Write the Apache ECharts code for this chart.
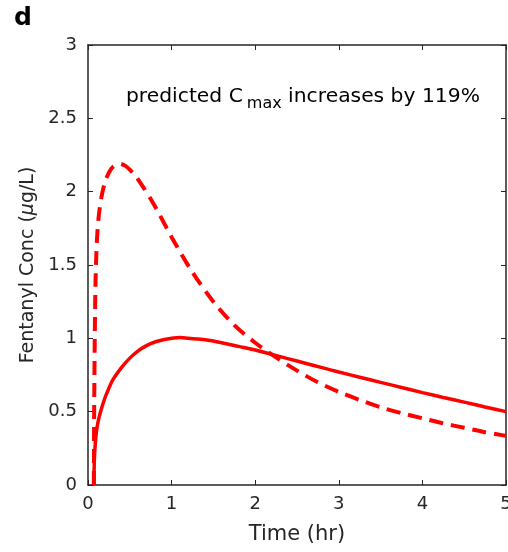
<!DOCTYPE html>
<html><head><meta charset="utf-8">
<script src="https://cdn.jsdelivr.net/npm/echarts@6/dist/echarts.min.js"></script>
<style>html,body{margin:0;padding:0;background:#fff}#c{width:508px;height:552px}</style>
</head><body><div id="c"></div>
<script>
const solidT = [0.07,0.075,0.08,0.09,0.1,0.12,0.15,0.2,0.25,0.3,0.4,0.5,0.6,0.7,0.8,0.9,1.0,1.1,1.2,1.4,1.6,1.8,2.0,2.2,2.4,2.6,2.8,3.0,3.25,3.5,3.75,4.0,4.25,4.5,4.75,5.0];
const solidC = [0,0.15,0.22,0.3,0.36,0.43,0.5,0.59,0.66,0.72,0.8,0.865,0.915,0.95,0.975,0.99,1.0,1.005,1.0,0.99,0.97,0.945,0.92,0.89,0.86,0.83,0.8,0.77,0.735,0.7,0.665,0.63,0.597,0.565,0.532,0.5];
const dashT = [0.07,0.072,0.075,0.08,0.085,0.09,0.1,0.11,0.13,0.16,0.2,0.25,0.3,0.38,0.45,0.55,0.65,0.75,0.85,1.0,1.25,1.5,1.75,2.0,2.25,2.5,2.75,3.0,3.25,3.5,3.75,4.0,4.25,4.5,4.75,5.0];
const dashC = [0,0.3,0.6,0.95,1.2,1.38,1.58,1.7,1.84,1.96,2.06,2.13,2.17,2.19,2.175,2.12,2.04,1.95,1.85,1.69,1.45,1.25,1.09,0.97,0.87,0.78,0.7,0.635,0.58,0.53,0.49,0.455,0.42,0.39,0.36,0.335];
const xTicks = [0,1,2,3,4,5];
const yTicks = [0,0.5,1,1.5,2,2.5,3];
const axisColor = '#262626';
const font = '"DejaVu Sans", sans-serif';
const chart = echarts.init(document.getElementById('c'));
const pairs = (t, c) => t.map((v, i) => [v, c[i]]);
const baseAxis = {
  axisLine: {show: true, onZero: false, lineStyle: {color: axisColor, width: 1.5}},
  axisTick: {show: true, inside: true, length: 5, lineStyle: {color: axisColor, width: 1}},
  splitLine: {show: false}
};
chart.setOption({
  animation: false,
  grid: {left: 88, right: 2, top: 45, bottom: 67, containLabel: false, outerBoundsMode: 'none'},
  xAxis: [
    Object.assign({}, baseAxis, {type: 'value', min: xTicks[0], max: xTicks[xTicks.length-1], interval: 1,
      name: 'Time (hr)', nameLocation: 'middle', nameGap: 39,
      nameTextStyle: {fontFamily: font, fontSize: 21, color: axisColor},
      axisLabel: {margin: 10, fontFamily: font, fontSize: 18, color: axisColor}}),
    Object.assign({}, baseAxis, {type: 'value', position: 'top', min: 0, max: 5, interval: 1,
      axisLabel: {show: false}})
  ],
  yAxis: [
    Object.assign({}, baseAxis, {type: 'value', min: yTicks[0], max: yTicks[yTicks.length-1], interval: 0.5,
      name: 'Fentanyl Conc ({i|\u03bc}g/L)', nameLocation: 'middle', nameGap: 46,
      nameTextStyle: {fontFamily: font, fontSize: 19, color: axisColor,
        rich: {i: {fontFamily: font, fontSize: 19, fontStyle: 'italic', color: axisColor}}},
      axisLabel: {margin: 11, fontFamily: font, fontSize: 18, color: axisColor}}),
    Object.assign({}, baseAxis, {type: 'value', position: 'right', min: 0, max: 3, interval: 0.5,
      axisLabel: {show: false}})
  ],
  graphic: [
    {type: 'text', left: 14, top: 6, style: {text: 'd', font: 'bold 25px "DejaVu Sans", sans-serif', fill: '#000'}},
    {type: 'text', left: 126, top: 85, style: {
      text: '{n|predicted C}{s|max}{n| increases by 119%}',
      rich: {
        n: {fontFamily: font, fontSize: 20.3, fill: '#000', verticalAlign: 'top', lineHeight: 23},
        s: {fontFamily: font, fontSize: 16, fill: '#000', padding: [11, 0, 0, 4], lineHeight: 23}
      }
    }}
  ],
  series: [
    {type: 'line', data: pairs(solidT, solidC), smooth: 0.3, showSymbol: false,
      lineStyle: {color: '#ff0000', width: 3.5}},
    {type: 'line', data: pairs(dashT, dashC), smooth: 0.3, showSymbol: false,
      lineStyle: {color: '#ff0000', width: 4, type: [14, 8]}}
  ]
});
</script></body></html>
